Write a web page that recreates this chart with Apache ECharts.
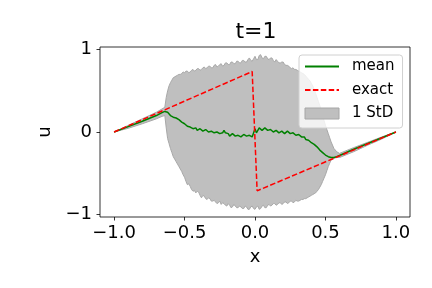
<!DOCTYPE html>
<html>
<head>
<meta charset="utf-8">
<script src="https://cdn.jsdelivr.net/npm/echarts@6/dist/echarts.min.js"></script>
<style>html,body{margin:0;padding:0;background:#fff}#c{width:432px;height:288px}</style>
</head>
<body>
<div id="c"></div>
<script>
// ---- data ----
const xs = [-1.0,-0.9,-0.8,-0.7,-0.66,-0.64,-0.63,
  -0.62,-0.61,-0.60,-0.59,-0.58,-0.57,-0.56,-0.55,-0.54,-0.53,
  -0.52,-0.51,-0.50,-0.49,-0.48,-0.47,-0.46,-0.45,-0.44,-0.43,
  -0.42,-0.41,-0.40,-0.39,-0.38,-0.37,-0.36,-0.35,-0.34,-0.33,
  -0.32,-0.31,-0.30,-0.29,-0.28,-0.27,-0.26,-0.25,-0.24,-0.23,
  -0.22,-0.21,-0.20,-0.19,-0.18,-0.17,-0.16,-0.15,-0.14,-0.13,
  -0.12,-0.11,-0.10,-0.09,-0.08,-0.07,-0.06,-0.05,-0.04,-0.03,
  -0.02,-0.01,0.00,0.01,0.02,0.03,0.04,0.05,0.06,0.07,
  0.08,0.09,0.10,0.11,0.12,0.13,0.14,0.15,0.16,0.17,
  0.18,0.19,0.20,0.21,0.22,0.23,0.24,0.25,0.26,0.27,
  0.28,0.29,0.30,0.31,0.32,0.33,0.34,0.35,0.36,0.37,
  0.38,0.39,0.40,0.41,0.42,0.43,0.44,0.45,0.46,0.47,
  0.48,0.49,0.50,0.51,0.52,0.53,0.54,
  0.56,0.58,0.60,0.70,0.80,0.90,1.00];
const meanVals = [0,0.065,0.13,0.20,0.235,0.25,0.25,
  0.24,0.22,0.20,0.19,0.18,0.18,0.17,0.16,0.15,0.13,
  0.12,0.11,0.10,0.08,0.07,0.07,0.06,0.04,0.04,0.05,
  0.05,0.02,0.02,0.04,0.04,0.01,0.01,0.03,0.03,0.00,
  0.00,0.01,0.02,-0.01,-0.02,0.00,0.01,-0.02,-0.04,-0.01,
  0.02,-0.01,-0.03,-0.02,-0.05,-0.03,-0.02,-0.04,-0.05,-0.03,
  -0.04,-0.05,-0.06,-0.04,-0.03,-0.05,-0.05,-0.03,-0.04,-0.06,
  -0.06,-0.05,0.04,-0.01,0.01,0.05,0.06,0.02,0.03,0.05,
  0.05,0.02,0.01,0.03,0.03,0.00,-0.01,0.02,0.02,-0.01,
  -0.01,0.01,0.01,-0.02,-0.02,0.01,0.00,-0.02,-0.03,-0.01,
  -0.02,-0.04,-0.05,-0.03,-0.04,-0.06,-0.07,-0.06,-0.09,-0.08,
  -0.10,-0.12,-0.13,-0.15,-0.15,-0.17,-0.18,-0.20,-0.22,-0.23,
  -0.25,-0.27,-0.28,-0.29,-0.30,-0.31,-0.31,
  -0.31,-0.30,-0.285,-0.21,-0.14,-0.07,0];
const upperVals = [0,0.08,0.16,0.24,0.28,0.30,0.42,
  0.50,0.56,0.60,0.63,0.66,0.67,0.68,0.69,0.70,0.70,
  0.71,0.73,0.72,0.74,0.74,0.72,0.73,0.75,0.76,0.74,
  0.75,0.77,0.77,0.75,0.76,0.78,0.79,0.77,0.78,0.80,
  0.80,0.78,0.78,0.81,0.82,0.79,0.80,0.82,0.83,0.80,
  0.81,0.84,0.84,0.82,0.82,0.85,0.85,0.83,0.83,0.86,
  0.86,0.84,0.84,0.87,0.87,0.85,0.85,0.88,0.90,0.87,
  0.86,0.89,0.92,0.88,0.88,0.93,0.94,0.90,0.89,0.92,
  0.92,0.89,0.88,0.90,0.90,0.87,0.85,0.88,0.86,0.84,
  0.84,0.85,0.85,0.82,0.81,0.81,0.80,0.78,0.77,0.78,
  0.76,0.76,0.75,0.74,0.73,0.72,0.71,0.70,0.68,0.66,
  0.64,0.62,0.59,0.56,0.52,0.47,0.42,0.37,0.32,0.26,
  0.20,0.14,0.08,0.03,-0.02,-0.07,-0.12,
  -0.20,-0.24,-0.26,-0.19,-0.125,-0.06,0];
const lowerVals = [0,0.045,0.10,0.16,0.19,0.20,0.05,
  -0.08,-0.14,-0.20,-0.25,-0.30,-0.33,-0.36,-0.39,-0.42,-0.45,
  -0.48,-0.52,-0.55,-0.60,-0.64,-0.63,-0.66,-0.70,-0.72,-0.71,
  -0.74,-0.72,-0.73,-0.77,-0.80,-0.77,-0.78,-0.81,-0.82,-0.80,
  -0.81,-0.84,-0.84,-0.83,-0.85,-0.87,-0.86,-0.84,-0.88,-0.86,
  -0.87,-0.89,-0.90,-0.87,-0.89,-0.92,-0.91,-0.88,-0.90,-0.92,
  -0.92,-0.90,-0.91,-0.93,-0.93,-0.90,-0.91,-0.94,-0.94,-0.91,
  -0.90,-0.93,-0.94,-0.91,-0.90,-0.94,-0.93,-0.90,-0.89,-0.92,
  -0.92,-0.89,-0.88,-0.90,-0.89,-0.87,-0.87,-0.89,-0.88,-0.86,
  -0.86,-0.88,-0.87,-0.85,-0.85,-0.87,-0.86,-0.84,-0.84,-0.86,
  -0.85,-0.83,-0.84,-0.84,-0.83,-0.82,-0.82,-0.81,-0.81,-0.80,
  -0.79,-0.78,-0.77,-0.76,-0.75,-0.74,-0.72,-0.70,-0.67,-0.64,
  -0.60,-0.56,-0.52,-0.47,-0.42,-0.38,-0.34,
  -0.32,-0.31,-0.31,-0.24,-0.16,-0.085,0];
const exactX = [-1.0,-0.02,0.015,1.0];
const exactVals = [0,0.735,-0.715,0];
const xTicks = [-1.0,-0.5,0.0,0.5,1.0];
const yTicks = [-1,0,1];
const xTickLabels = ['\u22121.0','\u22120.5','0.0','0.5','1.0'];
const yTickLabels = ['\u22121','0','1'];

const FONT = 'DejaVu Sans';
const chart = echarts.init(document.getElementById('c'), null, {renderer:'canvas'});
const meanData = xs.map((x,i)=>[x, meanVals[i]]);
const exactData = exactX.map((x,i)=>[x, exactVals[i]]);

chart.setOption({
  animation:false,
  backgroundColor:'#fff',
  title:{text:'t=1', left:251, textAlign:'center', top:16,
    textStyle:{fontFamily:FONT, fontSize:22, fontWeight:'normal', color:'#000'}},
  grid:{left:100, right:22, top:47, bottom:71, show:true, borderColor:'#000', borderWidth:0.8, backgroundColor:'transparent'},
  legend:{
    orient:'vertical', left:299, top:55,
    data:[
      {name:'mean', itemStyle:{opacity:0}},
      {name:'exact', itemStyle:{opacity:0}},
      {name:'1 StD', icon:'rect', itemStyle:{color:'#bfbfbf', borderColor:'#a6a6a6', borderWidth:1}}],
    itemWidth:34, itemHeight:11, itemGap:8.5,
    padding:[4,8,7,5],
    backgroundColor:'rgba(255,255,255,0.8)', borderColor:'#d0d0d0', borderWidth:1, borderRadius:3,
    textStyle:{fontFamily:FONT, fontSize:15, color:'#000', padding:[0,0,0,8]},
    selectedMode:false
  },
  xAxis:{type:'value', min:-1.1, max:1.1,
    name:'x', nameLocation:'middle', nameGap:31,
    nameTextStyle:{fontFamily:FONT, fontSize:18, color:'#000'},
    axisLine:{show:false, onZero:false},
    splitLine:{show:false},
    axisTick:{show:true, length:3.5, lineStyle:{color:'#000', width:0.8}, customValues:xTicks},
    axisLabel:{fontFamily:FONT, fontSize:18, color:'#000', margin:7, customValues:xTicks,
      formatter:(v)=>{const i=xTicks.findIndex(t=>Math.abs(t-v)<1e-9); return i>=0?xTickLabels[i]:'';}}
  },
  yAxis:{type:'value', min:-1.033, max:1.033,
    name:'u', nameLocation:'middle', nameGap:33, nameRotate:90,
    nameTextStyle:{fontFamily:FONT, fontSize:18, color:'#000'},
    axisLine:{show:false, onZero:false},
    splitLine:{show:false},
    axisTick:{show:true, length:3.5, lineStyle:{color:'#000', width:0.8}, customValues:yTicks},
    axisLabel:{fontFamily:FONT, fontSize:18, color:'#000', margin:8, customValues:yTicks,
      formatter:(v)=>{const i=yTicks.findIndex(t=>Math.abs(t-v)<1e-9); return i>=0?yTickLabels[i]:'';}}
  },
  series:[
    {name:'1 StD', type:'custom', data:[[0,0]], z:1, clip:true,
      itemStyle:{color:'#bfbfbf'},
      renderItem:function(params, api){
        if(params.dataIndex!==0) return null;
        const up = xs.map((x,i)=>api.coord([x, upperVals[i]]));
        const lo = xs.map((x,i)=>api.coord([x, lowerVals[i]]));
        const poly = up.concat(lo.slice().reverse());
        return {type:'group', children:[
          {type:'polygon', shape:{points:poly}, style:{fill:'#bfbfbf', stroke:null}},
          {type:'polyline', shape:{points:up}, style:{fill:null, stroke:'#a8a8a8', lineWidth:1}},
          {type:'polyline', shape:{points:lo}, style:{fill:null, stroke:'#a8a8a8', lineWidth:1}}
        ]};
      }
    },
    {name:'mean', type:'line', data:meanData, symbol:'none', z:3,
      lineStyle:{color:'#008000', width:1.5}, itemStyle:{color:'#008000'}},
    {name:'exact', type:'line', data:exactData, symbol:'none', z:4,
      lineStyle:{color:'#ff0000', width:1.5, type:[5.5,2.4]}, itemStyle:{color:'#ff0000'}}
  ]
});
</script>
</body>
</html>
